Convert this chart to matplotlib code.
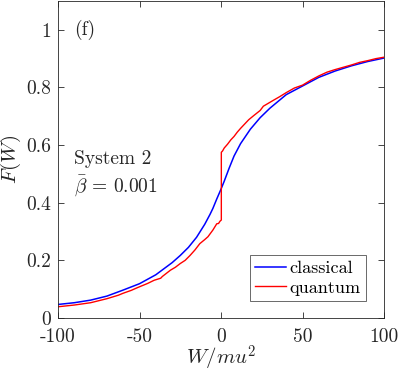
import matplotlib
matplotlib.use("Agg")
import matplotlib.pyplot as plt

plt.rcParams['font.family'] = 'serif'
plt.rcParams['font.serif'] = ['cmr10']
plt.rcParams['mathtext.fontset'] = 'cm'
plt.rcParams['axes.formatter.use_mathtext'] = True

# classical work CDF
W_classical = [-100, -90, -80, -70, -60, -50, -40, -30, -25, -20, -15, -10,
               -6.7, -5, -2.6, 0, 2, 5, 8, 12, 18, 24, 30, 40, 50, 60, 70, 80,
               90, 100]
F_classical = [0.047, 0.053, 0.062, 0.076, 0.097, 0.119, 0.150, 0.192, 0.217,
               0.245, 0.280, 0.325, 0.360, 0.380, 0.413, 0.447, 0.475, 0.520,
               0.562, 0.605, 0.655, 0.695, 0.728, 0.775, 0.805, 0.835, 0.857,
               0.875, 0.890, 0.902]

# quantum work CDF (jagged, jump at W = 0)
W_quantum = [-100, -90, -80, -75, -70, -63, -60, -55, -51, -45, -41, -37, -36,
             -31, -28, -25, -22, -19, -16, -13, -10, -8, -6.7, -5, -2.6, -1.5,
             -0.6, 0.2, 0.2, 1, 2, 4, 6, 8, 10, 12, 14, 17, 20, 24, 26, 29, 32,
             36, 40, 45, 50, 55, 60, 65, 70, 75, 80, 85, 90, 95, 100]
F_quantum = [0.039, 0.045, 0.053, 0.060, 0.067, 0.079, 0.086, 0.096, 0.106,
             0.120, 0.131, 0.138, 0.144, 0.166, 0.176, 0.189, 0.200, 0.217,
             0.236, 0.258, 0.272, 0.282, 0.292, 0.305, 0.327, 0.328, 0.336,
             0.340, 0.575, 0.580, 0.590, 0.603, 0.618, 0.630, 0.645, 0.658,
             0.670, 0.688, 0.702, 0.720, 0.735, 0.745, 0.755, 0.768, 0.782,
             0.798, 0.808, 0.825, 0.840, 0.853, 0.862, 0.870, 0.878, 0.887,
             0.893, 0.900, 0.905]

xticks = [-100, -50, 0, 50, 100]
xticklabels = ['-100', '-50', '0', '50', '100']
yticks = [0, 0.2, 0.4, 0.6, 0.8, 1]
yticklabels = ['0', '0.2', '0.4', '0.6', '0.8', '1']

fig = plt.figure(figsize=(3.99, 3.74), dpi=100)
ax = fig.add_axes([58/399, 56/374, 326/399, 317/374])

ax.plot(W_classical, F_classical, color='#0000ff', lw=1.1, label='classical')
ax.plot(W_quantum, F_quantum, color='#ff0000', lw=1.0, label='quantum')

ax.set_xlim(-100, 100)
ax.set_ylim(0, 1.1)
ax.set_xticks(xticks)
ax.set_xticklabels(xticklabels)
ax.set_yticks(yticks)
ax.set_yticklabels(yticklabels)
ax.tick_params(direction='in', top=True, right=True, length=4, width=0.6,
               colors='#262626', labelsize=14, labelcolor='#262626')
ax.tick_params(axis='x', pad=7)
ax.tick_params(axis='y', pad=5)
for s in ax.spines.values():
    s.set_color('#262626')
    s.set_linewidth(0.6)

ax.set_xlabel('$W/mu^2$', fontsize=15, color='#262626', labelpad=-1)
ax.set_ylabel('$F(W)$', fontsize=15, color='#262626', labelpad=2)

ax.text(-90, 1.0, '(f)', fontsize=14, va='center', ha='left', color='#262626')
ax.text(-90, 0.55, 'System 2', fontsize=14, va='center', ha='left', color='#262626')
ax.text(-90, 0.46, r'$\bar{\beta}$ = 0.001', fontsize=14, va='center', ha='left', color='#262626')

leg = ax.legend(loc='lower right', fontsize=13, frameon=True, fancybox=False,
                edgecolor='#262626', handlelength=1.7, handletextpad=0.2,
                borderpad=0.3, labelspacing=0.2)
leg.set_bbox_to_anchor((375/399, (374-310)/374), transform=fig.transFigure)
leg.get_frame().set_linewidth(0.6)

fig.savefig('out.png', dpi=100)
